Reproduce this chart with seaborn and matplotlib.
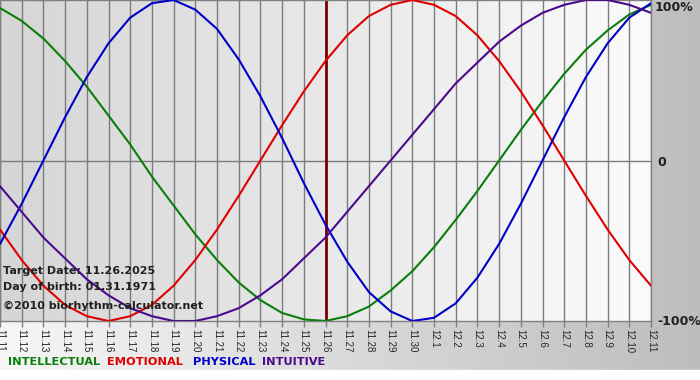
import numpy as np
import pandas as pd
import matplotlib
matplotlib.use('Agg')
import matplotlib.pyplot as plt
import seaborn as sns
from matplotlib.colors import LinearSegmentedColormap

# Dane (w procentach)
days = ["11.11", "11.12", "11.13", "11.14", "11.15", "11.16", "11.17", "11.18",
        "11.19", "11.20", "11.21", "11.22", "11.23", "11.24", "11.25", "11.26",
        "11.27", "11.28", "11.29", "11.30", "12.1", "12.2", "12.3", "12.4",
        "12.5", "12.6", "12.7", "12.8", "12.9", "12.10", "12.11"]

intellectual = [95, 87, 76, 62, 46, 28, 10, -10, -28, -46, -62, -76, -87, -95, -99, -100,
                -97, -91, -81, -69, -54, -37, -19, 0, 19, 37, 54, 69, 81, 91, 97]
emotional = [-43, -62, -78, -90, -97, -100, -97, -90, -78, -62, -43, -22, 0, 22, 43, 62,
             78, 90, 97, 100, 97, 90, 78, 62, 43, 22, 0, -22, -43, -62, -78]
physical = [-52, -27, 0, 27, 52, 73, 89, 98, 100, 94, 82, 63, 40, 14, -14, -40,
            -63, -82, -94, -100, -98, -89, -73, -52, -27, 0, 27, 52, 73, 89, 98]
intuitive = [-16, -32, -48, -61, -74, -84, -92, -97, -100, -100, -97, -92, -84, -74, -61, -48,
             -32, -16, 0, 16, 32, 48, 61, 74, 84, 92, 97, 100, 100, 97, 92]

rhythms = ["INTELLECTUAL", "EMOTIONAL", "PHYSICAL", "INTUITIVE"]
colors = {"INTELLECTUAL": "#0a7d0a", "EMOTIONAL": "#e00000",
          "PHYSICAL": "#0000c8", "INTUITIVE": "#4b0a8c"}
target_day = "11.26"

df = pd.DataFrame({"day": list(range(len(days))) * 4,
                   "value": intellectual + emotional + physical + intuitive,
                   "rhythm": [r for r in rhythms for _ in days]})

sns.set_style("white")
plt.rcParams['font.family'] = ['DejaVu Sans']

W, H = 700, 380
fig = plt.figure(figsize=(7, 3.8), dpi=100)

# tlo calej figury
bg = fig.add_axes([0, 0, 1, 1])
grad = np.linspace(0, 1, 256).reshape(1, -1)
bg.imshow(grad, aspect="auto", extent=[0, 1, 0, 1],
          cmap=LinearSegmentedColormap.from_list("bg", ["#f6f6f6", "#bdbdbd"]))
bg.axhspan(0, 10 / H, color="white")
bg.set_xlim(0, 1)
bg.set_ylim(0, 1)
bg.set_axis_off()

# obszar wykresu
ax = fig.add_axes([0, 1 - 321 / H, 651 / W, 321 / H])
ax.imshow(grad, aspect="auto", extent=[0, len(days) - 1, -100, 100], zorder=0,
          cmap=LinearSegmentedColormap.from_list("pl", ["#d6d6d6", "#fbfbfb"]))
for i in range(len(days)):
    ax.axvline(i, color="#7c7c7c", lw=1, zorder=1)
ax.axhline(0, color="#7c7c7c", lw=1, zorder=1)
ax.axvline(days.index(target_day), color="#7a0000", lw=2, zorder=2)

sns.lineplot(data=df, x="day", y="value", hue="rhythm", palette=colors,
             linewidth=1.5, legend=False, ax=ax, zorder=3)

ax.set_xlim(0, len(days) - 1)
ax.set_ylim(-100, 100)
ax.set_xticks(range(len(days)))
ax.set_xticklabels(days, rotation=270, fontsize=7, family="Liberation Sans")
ax.set_yticks([])
ax.set_xlabel("")
ax.set_ylabel("")
ax.tick_params(axis="x", length=4, width=1, color="#808080", pad=2, bottom=True)
for s in ax.spines.values():
    s.set_color("#808080")
    s.set_linewidth(1)

# etykiety po prawej
ax.text(1.006, 0.997, "100%", transform=ax.transAxes, va="top", ha="left",
        fontsize=9, weight="bold", color="#202020")
ax.text(1.01, 0.495, "0", transform=ax.transAxes, va="center", ha="left",
        fontsize=9, weight="bold", color="#202020")
ax.text(1.01, -0.003, "-100%", transform=ax.transAxes, va="center", ha="left",
        fontsize=9, weight="bold", color="#202020")

# opisy
info = [("Target Date: 11.26.2025", 271), ("Day of birth: 01.31.1971", 287),
        ("\u00a92010 biorhythm-calculator.net", 306)]
for txt, y in info:
    fig.text(3 / W, 1 - y / H, txt, va="center", ha="left", fontsize=8,
             weight="bold", color="#202020", zorder=5)

# legenda
leg_x = [8, 107, 193, 262]
for name, x in zip(rhythms, leg_x):
    fig.text(x / W, 1 - 362 / H, name, va="center", ha="left", fontsize=8.2,
             weight="bold", color=colors[name])

fig.savefig("out.png", dpi=100)
